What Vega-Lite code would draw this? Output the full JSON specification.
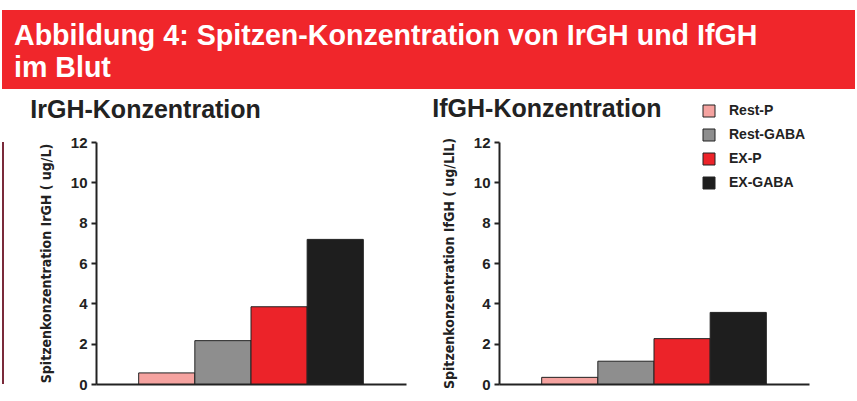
{
  "$schema": "https://vega.github.io/schema/vega-lite/v6.json",
  "background": "white",
  "padding": {"left": 2, "top": 10, "right": 0, "bottom": 0},
  "spacing": 8,
  "datasets": {
    "irgh": [
      {"gruppe": "Rest-P", "wert": 0.55},
      {"gruppe": "Rest-GABA", "wert": 2.15},
      {"gruppe": "EX-P", "wert": 3.83},
      {"gruppe": "EX-GABA", "wert": 7.17}
    ],
    "ifgh": [
      {"gruppe": "Rest-P", "wert": 0.33},
      {"gruppe": "Rest-GABA", "wert": 1.13},
      {"gruppe": "EX-P", "wert": 2.25},
      {"gruppe": "EX-GABA", "wert": 3.55}
    ],
    "kopf": [{"t": ""}]
  },
  "vconcat": [
    {
      "width": 853,
      "height": 79,
      "view": {"fill": "#f0262b", "stroke": null},
      "data": {"name": "kopf"},
      "mark": {"type": "text"},
      "encoding": {"text": {"field": "t"}},
      "title": {
        "text": ["Abbildung 4: Spitzen-Konzentration von IrGH und IfGH", "im Blut"],
        "anchor": "start",
        "frame": "group",
        "color": "white",
        "font": "Liberation Sans",
        "fontSize": 28.6,
        "fontWeight": "bold",
        "baseline": "top",
        "lineHeight": 32,
        "offset": -73,
        "dx": 12
      }
    },
    {
      "hconcat": [
        {
          "width": 2,
          "height": 242,
          "view": {"fill": "#7a2a3a", "stroke": null},
          "data": {"name": "kopf"},
          "mark": {"type": "text"},
          "encoding": {"text": {"field": "t"}}
        },
        {
          "width": 310,
          "height": 242,
          "data": {"name": "irgh"},
          "title": {
            "text": "IrGH-Konzentration",
            "anchor": "start",
            "frame": "bounds",
            "font": "Liberation Sans",
            "fontSize": 25,
            "fontWeight": "bold",
            "color": "#222",
            "dx": -9,
            "offset": 12
          },
          "mark": {"type": "bar", "stroke": "#222", "strokeWidth": 1},
          "encoding": {
            "x": {
              "field": "gruppe", "type": "nominal",
              "sort": ["Rest-P", "Rest-GABA", "EX-P", "EX-GABA"],
              "scale": {"paddingInner": 0, "paddingOuter": 0.76},
              "axis": {"labels": false, "ticks": false, "title": null, "domainColor": "#222", "domainWidth": 2}
            },
            "y": {
              "field": "wert", "type": "quantitative",
              "scale": {"domain": [0, 12]},
              "axis": {"values": [0, 2, 4, 6, 8, 10, 12], "title": "Spitzenkonzentration IrGH ( ug/L)"}
            },
            "color": {
              "field": "gruppe", "type": "nominal",
              "scale": {"domain": ["Rest-P", "Rest-GABA", "EX-P", "EX-GABA"], "range": ["#f5a3a0", "#8e8e8e", "#ec2329", "#1e1e1e"]},
              "legend": null
            }
          }
        },
        {
          "width": 310,
          "height": 242,
          "data": {"name": "ifgh"},
          "title": {
            "text": "IfGH-Konzentration",
            "anchor": "start",
            "frame": "bounds",
            "font": "Liberation Sans",
            "fontSize": 25,
            "fontWeight": "bold",
            "color": "#222",
            "dx": -10,
            "offset": -18
          },
          "mark": {"type": "bar", "stroke": "#222", "strokeWidth": 1},
          "encoding": {
            "x": {
              "field": "gruppe", "type": "nominal",
              "sort": ["Rest-P", "Rest-GABA", "EX-P", "EX-GABA"],
              "scale": {"paddingInner": 0, "paddingOuter": 0.76},
              "axis": {"labels": false, "ticks": false, "title": null, "domainColor": "#222", "domainWidth": 2}
            },
            "y": {
              "field": "wert", "type": "quantitative",
              "scale": {"domain": [0, 12]},
              "axis": {"values": [0, 2, 4, 6, 8, 10, 12], "title": "Spitzenkonzentration IfGH ( ug/LlL)"}
            },
            "color": {
              "field": "gruppe", "type": "nominal",
              "sort": ["Rest-P", "Rest-GABA", "EX-P", "EX-GABA"],
              "scale": {"domain": ["Rest-P", "Rest-GABA", "EX-P", "EX-GABA"], "range": ["#f5a3a0", "#8e8e8e", "#ec2329", "#1e1e1e"]},
              "legend": {
                "orient": "none",
                "legendX": 203,
                "legendY": -38,
                "title": null,
                "symbolType": "square",
                "symbolSize": 144,
                "symbolStrokeColor": "#222",
                "symbolStrokeWidth": 1,
                "labelFont": "Liberation Sans",
                "labelFontSize": 14,
                "labelFontWeight": "bold",
                "labelColor": "#222",
                "labelOffset": 13,
                "rowPadding": 8,
                "padding": 0
              }
            }
          }
        }
      ],
      "spacing": 26,
      "resolve": {"scale": {"color": "independent"}, "legend": {"color": "independent"}}
    }
  ],
  "config": {
    "view": {"stroke": null},
    "axis": {
      "grid": false,
      "domainColor": "#222",
      "domainWidth": 2,
      "tickColor": "#222",
      "tickWidth": 2,
      "tickSize": 5,
      "labelFont": "Liberation Sans",
      "labelFontSize": 15,
      "labelFontWeight": "bold",
      "labelColor": "#222",
      "labelPadding": 4,
      "titleFont": "DejaVu Sans Condensed",
      "titleFontSize": 14,
      "titleFontWeight": "bold",
      "titleColor": "#222",
      "titlePadding": 17
    }
  }
}
